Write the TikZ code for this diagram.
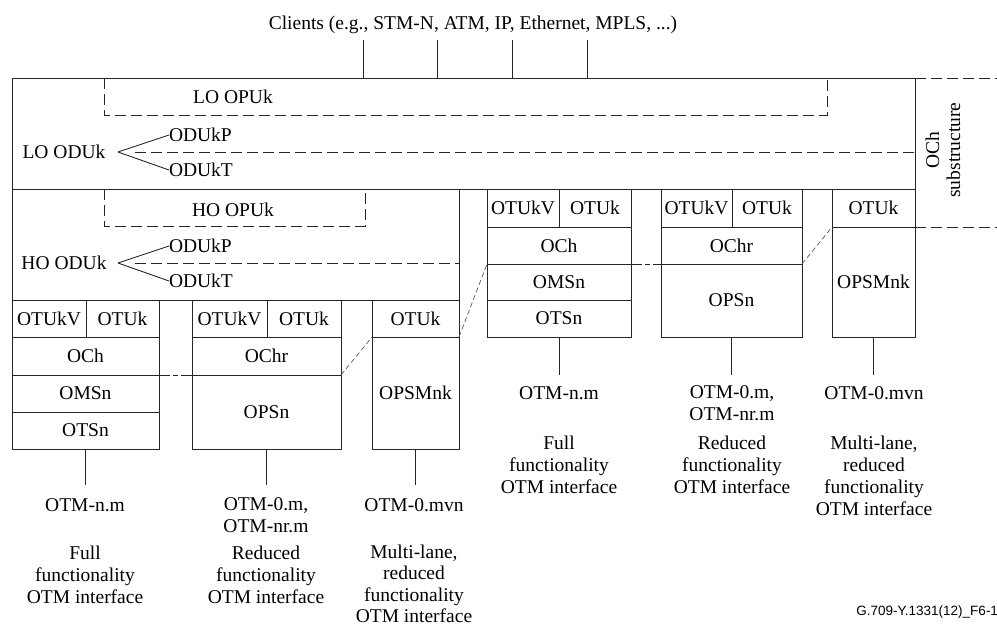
\documentclass[tikz,border=0pt]{standalone}
\usepackage{fontspec}
\setmainfont{Liberation Serif}
\newfontfamily\footfont{Liberation Sans}
\begin{document}
\begin{tikzpicture}[x=1pt,y=-1pt,
  every node/.style={font=\fontsize{19.5}{22}\selectfont, inner sep=0pt, outer sep=0pt},
  ln/.style={line width=0.9pt, draw=black!85},
  cell/.style={draw=black!85, line width=0.9pt, inner sep=0pt, outer sep=0pt, anchor=north west, align=center, rectangle},
  dsh/.style={line width=0.9pt, draw=black!85, dash pattern=on 11pt off 5pt},
  dshdot/.style={line width=0.9pt, draw=black!85, dash pattern=on 11pt off 3pt on 5pt off 3pt},
  diag/.style={line width=0.7pt, draw=black!65, dash pattern=on 5pt off 3pt},
  lbl/.style={align=center}]
\useasboundingbox (0,0) rectangle (997,627);

% Clients
\node[lbl] (clients) at (473,25) {Clients (e.g., STM-N, ATM, IP, Ethernet, MPLS, ...)};

% big regions
\node[cell, minimum width=903pt, minimum height=111pt] (lo) at (12,78) {};
\node[cell, minimum width=447pt, minimum height=111pt] (ho) at (12,189) {};

\foreach \cx/\nm in {363/ca,437/cb,512/cc,587/cd}{
  \coordinate (\nm) at (\cx,40);
  \draw[ln] (\nm) -- (\nm |- lo.north);
}

% LO part
\node (loopuk) at (233,97) {LO OPUk};
\draw[dsh] (104,78) -- (104,115) -- (827,115) -- (827,78);
\node (loodu) at (64,152) {LO ODUk};
\coordinate (lov) at (118,152);
\node[anchor=west] (lop) at (169,135) {ODUkP};
\node[anchor=west] (lot) at (169,170) {ODUkT};
\draw[ln] (lov) -- (lop.west);
\draw[ln] (lov) -- (lot.west);
\coordinate (lod) at (135,152);
\draw[dsh] (lod) -- (lod -| lo.east);

% HO part
\node (hoopuk) at (233,210) {HO OPUk};
\draw[dsh] (104,189) -- (104,226) -- (365,226) -- (365,192);
\node (hoodu) at (64,263) {HO ODUk};
\coordinate (hov) at (118,263);
\node[anchor=west] (hop) at (169,246) {ODUkP};
\node[anchor=west] (hot) at (169,281) {ODUkT};
\draw[ln] (hov) -- (hop.west);
\draw[ln] (hov) -- (hot.west);
\coordinate (hod) at (135,263);
\draw[dsh] (hod) -- (hod -| ho.east);

% OCh substructure
\node[rotate=90, align=center, font=\fontsize{19.5}{21}\selectfont] (ochsub) at (943,150) {OCh\\substructure};
\coordinate (sa) at (997,78);
\coordinate (sb) at (997,227);
\draw[dsh] (lo.north east) -- (sa);
\draw[dsh] (915,227) -- (sb);

% Lower box 1
\node[cell, minimum width=74pt, minimum height=37pt] (b1v) at (12,300) {OTUkV};
\node[cell, minimum width=73pt, minimum height=37pt] (b1k) at (86,300) {OTUk};
\node[cell, minimum width=147pt, minimum height=38pt] (b1och) at (12,337) {OCh};
\node[cell, minimum width=147pt, minimum height=37pt] (b1oms) at (12,375) {OMSn};
\node[cell, minimum width=147pt, minimum height=37pt] (b1ots) at (12,412) {OTSn};
% Lower box 2
\node[cell, minimum width=75pt, minimum height=37pt] (b2v) at (192,300) {OTUkV};
\node[cell, minimum width=74pt, minimum height=37pt] (b2k) at (267,300) {OTUk};
\node[cell, minimum width=149pt, minimum height=38pt] (b2ochr) at (192,337) {OChr};
\node[cell, minimum width=149pt, minimum height=74pt] (b2ops) at (192,375) {OPSn};
% Lower box 3
\node[cell, minimum width=87pt, minimum height=37pt] (b3k) at (372,300) {OTUk};
\node[cell, minimum width=87pt, minimum height=112pt] (b3opsm) at (372,337) {OPSMnk};

% Upper box 4
\node[cell, minimum width=72pt, minimum height=38pt] (b4v) at (487,189) {OTUkV};
\node[cell, minimum width=72pt, minimum height=38pt] (b4k) at (559,189) {OTUk};
\node[cell, minimum width=144pt, minimum height=37pt] (b4och) at (487,227) {OCh};
\node[cell, minimum width=144pt, minimum height=36pt] (b4oms) at (487,264) {OMSn};
\node[cell, minimum width=144pt, minimum height=37pt] (b4ots) at (487,300) {OTSn};
% Upper box 5
\node[cell, minimum width=71pt, minimum height=38pt] (b5v) at (661,189) {OTUkV};
\node[cell, minimum width=70pt, minimum height=38pt] (b5k) at (732,189) {OTUk};
\node[cell, minimum width=141pt, minimum height=37pt] (b5ochr) at (661,227) {OChr};
\node[cell, minimum width=141pt, minimum height=73pt] (b5ops) at (661,264) {OPSn};
% Upper box 6
\node[cell, minimum width=83pt, minimum height=38pt] (b6k) at (832,189) {OTUk};
\node[cell, minimum width=83pt, minimum height=110pt] (b6opsm) at (832,227) {OPSMnk};

% dashed links
\draw[dshdot] (b1och.south east) -- (b2ochr.south west);
\draw[diag] (b2ochr.south east) -- (b3opsm.north west);
\draw[diag] (b3opsm.north east) -- (b4oms.north west);
\draw[dshdot] (b4och.south east) -- (b5ochr.south west);
\draw[diag] (b5ochr.south east) -- (b6opsm.north west);

% stems and labels (lower)
\draw[ln] (b1ots.south) -- ++(0,36) coordinate (s1);
\draw[ln] (b2ops.south) -- ++(0,36) coordinate (s2);
\draw[ln] (b3opsm.south) -- ++(0,36) coordinate (s3);
\node[lbl] (l1) at (85,505) {OTM-n.m};
\node[lbl] (l2) at (266,515) {OTM-0.m,\\OTM-nr.m};
\node[lbl] (l3) at (414,505) {OTM-0.mvn};
\node[lbl] (d1) at (85,575) {Full\\functionality\\OTM interface};
\node[lbl] (d2) at (266,575) {Reduced\\functionality\\OTM interface};
\node[lbl, font=\fontsize{19.5}{21.5}\selectfont] (d3) at (414,584) {Multi-lane,\\reduced\\functionality\\OTM interface};

% stems and labels (upper)
\draw[ln] (b4ots.south) -- ++(0,38) coordinate (s4);
\draw[ln] (b5ops.south) -- ++(0,38) coordinate (s5);
\draw[ln] (b6opsm.south) -- ++(0,38) coordinate (s6);
\node[lbl] (l4) at (559,393) {OTM-n.m};
\node[lbl] (l5) at (732,403) {OTM-0.m,\\OTM-nr.m};
\node[lbl] (l6) at (874,393) {OTM-0.mvn};
\node[lbl] (d4) at (559,465) {Full\\functionality\\OTM interface};
\node[lbl] (d5) at (732,465) {Reduced\\functionality\\OTM interface};
\node[lbl] (d6) at (874,476) {Multi-lane,\\reduced\\functionality\\OTM interface};

% figure id
\node[anchor=east, font=\footfont\fontsize{13.5}{15}\selectfont] (fig) at (998,612) {G.709-Y.1331(12)\_F6-1};
\end{tikzpicture}
\end{document}
